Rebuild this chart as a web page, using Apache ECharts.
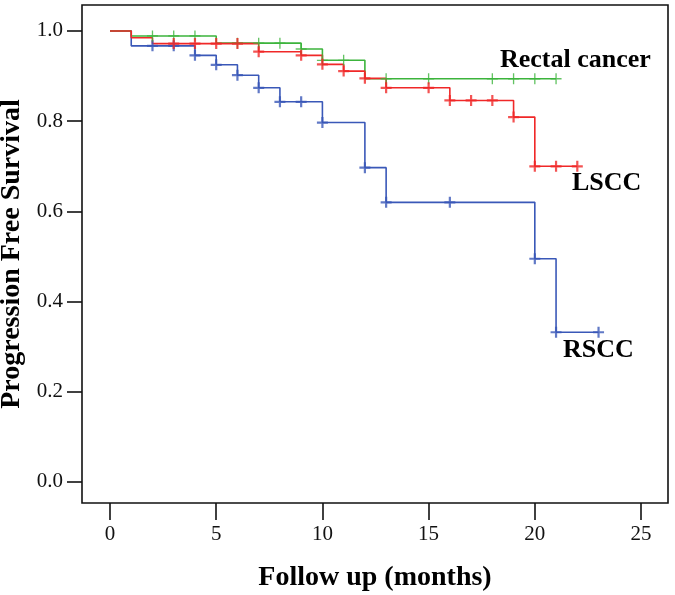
<!DOCTYPE html>
<html>
<head>
<meta charset="utf-8">
<script src="https://cdn.jsdelivr.net/npm/echarts@6/dist/echarts.min.js"></script>
<style>
  html, body { margin: 0; padding: 0; background: #fff; }
  #chart { width: 675px; height: 595px; }
</style>
</head>
<body>
<div id="chart"></div>
<script>
// Kaplan-Meier steps: event times and survival after each step
const rectalTimes = [0, 1, 5, 9, 10, 12, 21];
const rectalSurv = [1, 0.989, 0.973, 0.96, 0.935, 0.894, 0.894];
const rectalCensored = [2, 3, 4, 6, 7, 8, 9, 10, 11, 13, 15, 18, 19, 20, 21];

const lsccTimes = [0, 1, 2, 7, 9, 10, 11, 12, 13, 16, 19, 20, 22];
const lsccSurv = [1, 0.985, 0.972, 0.954, 0.946, 0.926, 0.911, 0.895, 0.874, 0.846, 0.809, 0.7, 0.7];
const lsccCensored = [3, 4, 5, 6, 7, 9, 10, 11, 12, 13, 15, 16, 17, 18, 19, 20, 21, 22];

const rsccTimes = [0, 1, 4, 5, 6, 7, 8, 10, 12, 13, 20, 21, 23];
const rsccSurv = [1, 0.967, 0.946, 0.925, 0.902, 0.874, 0.843, 0.797, 0.697, 0.62, 0.495, 0.332, 0.332];
const rsccCensored = [2, 3, 4, 5, 6, 7, 8, 9, 10, 12, 13, 16, 20, 21, 23];

const xTicks = [0, 5, 10, 15, 20, 25];
const yTicks = [0, 0.2, 0.4, 0.6, 0.8, 1.0];

const colors = { rectal: '#3cb43c', lscc: '#f02828', rscc: '#3a58b8' };
const serif = '"Liberation Serif", "Times New Roman", serif';

const plusThick = 'path://M4,0h2v4h4v2h-4v4h-2v-4h-4v-2h4z';
const plusThin = 'path://M4.4,0h1.2v4.4h4.4v1.2h-4.4v4.4h-1.2v-4.4h-4.4v-1.2h4.4z';

// survival level of a curve at time t (for placing censor marks)
const levelAt = (times, surv, t) => {
  let s = surv[0];
  times.forEach((ti, i) => {
    if (ti <= t) s = surv[i];
  });
  return s;
};

const stepSeries = (name, times, surv, color) => ({
  name,
  type: 'line',
  step: 'end',
  data: times.map((t, i) => [t, surv[i]]),
  showSymbol: false,
  lineStyle: { color, width: 1.6 },
  z: 2,
});

const censorSeries = (name, times, surv, censored, color, symbol) => ({
  name: name + ' censored',
  type: 'scatter',
  data: censored.map((t) => [t, levelAt(times, surv, t)]),
  symbol,
  symbolSize: 11,
  itemStyle: { color },
  z: 3,
});

const chart = echarts.init(document.getElementById('chart'), null, { renderer: 'canvas' });

const option = {
  animation: false,
  backgroundColor: '#fff',
  // grid is the framed plot box; the axis ranges leave padding round the ticks
  grid: {
    left: 82,
    right: 7,
    top: 5,
    bottom: 92,
    outerBoundsMode: 'none',
    show: true,
    borderColor: '#111',
    borderWidth: 1.6,
  },
  xAxis: {
    type: 'value',
    min: -1.318,
    max: 26.27,
    axisLine: { show: false, onZero: false },
    axisTick: {
      show: true,
      customValues: xTicks,
      length: 17,
      lineStyle: { color: '#111', width: 1.6 },
    },
    axisLabel: {
      customValues: xTicks,
      margin: 21,
      fontFamily: serif,
      fontSize: 21,
      color: '#111',
    },
    splitLine: { show: false },
    name: 'Follow up (months)',
    nameLocation: 'middle',
    nameGap: 61,
    nameTextStyle: { fontFamily: serif, fontSize: 28, fontWeight: 'bold', color: '#000' },
  },
  yAxis: {
    type: 'value',
    min: -0.0466,
    max: 1.0576,
    axisLine: { show: false, onZero: false },
    axisTick: {
      show: true,
      customValues: yTicks,
      length: 15,
      lineStyle: { color: '#111', width: 1.6 },
    },
    axisLabel: {
      customValues: yTicks,
      margin: 19,
      fontFamily: serif,
      fontSize: 21,
      color: '#111',
      formatter: (v) => v.toFixed(1),
    },
    splitLine: { show: false },
    name: 'Progression Free Survival',
    nameLocation: 'middle',
    nameGap: 55,
    nameTextStyle: { fontFamily: serif, fontSize: 28, fontWeight: 'bold', color: '#000' },
  },
  graphic: [
    {
      type: 'text',
      left: 500,
      top: 47,
      style: { text: 'Rectal cancer', font: 'bold 26px ' + serif, fill: '#000' },
    },
    {
      type: 'text',
      left: 572,
      top: 170,
      style: { text: 'LSCC', font: 'bold 26px ' + serif, fill: '#000' },
    },
    {
      type: 'text',
      left: 563,
      top: 337,
      style: { text: 'RSCC', font: 'bold 26px ' + serif, fill: '#000' },
    },
  ],
  series: [
    stepSeries('RSCC', rsccTimes, rsccSurv, colors.rscc),
    stepSeries('Rectal cancer', rectalTimes, rectalSurv, colors.rectal),
    stepSeries('LSCC', lsccTimes, lsccSurv, colors.lscc),
    censorSeries('RSCC', rsccTimes, rsccSurv, rsccCensored, colors.rscc, plusThick),
    censorSeries('Rectal cancer', rectalTimes, rectalSurv, rectalCensored, colors.rectal, plusThin),
    censorSeries('LSCC', lsccTimes, lsccSurv, lsccCensored, colors.lscc, plusThick),
  ],
};

chart.setOption(option);
</script>
</body>
</html>
